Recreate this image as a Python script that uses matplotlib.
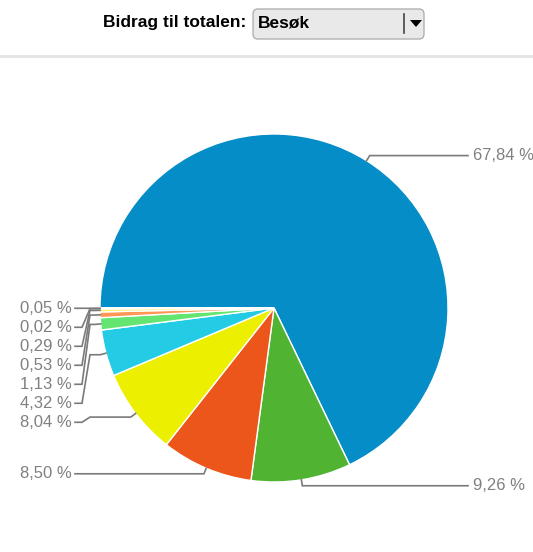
import numpy as np
import matplotlib
matplotlib.use("Agg")
import matplotlib.pyplot as plt
from matplotlib.patches import FancyBboxPatch, Polygon

plt.rcParams['font.family'] = ['Liberation Sans', 'DejaVu Sans']

# andel av besøk per kilde (prosent)
andeler = [67.84, 9.26, 8.50, 8.04, 4.32, 1.13, 0.53, 0.29, 0.02, 0.05]
etiketter = ["67,84 %", "9,26 %", "8,50 %", "8,04 %", "4,32 %",
             "1,13 %", "0,53 %", "0,29 %", "0,02 %", "0,05 %"]
farger = ["#058DC7", "#50B432", "#ED561B", "#EDEF00", "#24CBE5",
          "#64E572", "#FF9655", "#FFF263", "#6AF9C4", "#B2DEFF"]

W, H = 533, 552
fig = plt.figure(figsize=(W / 100, H / 100), dpi=100)
ax = fig.add_axes([0, 0, 1, 1])

cx, cy, r = 274, H - 308, 174
wedges, _ = ax.pie(andeler, colors=farger, startangle=180, counterclock=False,
                   radius=r, center=(cx, cy),
                   wedgeprops=dict(edgecolor='white', linewidth=1))
ax.set_xlim(0, W)
ax.set_ylim(0, H)
ax.set_aspect('equal')
ax.axis('off')

# etiketter med kantlinjer, stablet på hver side
grå = "#808080"
venstre_kol, hoyre_kol = 72, 473
punkter = []
for w, tekst in zip(wedges, etiketter):
    mid = np.deg2rad((w.theta1 + w.theta2) / 2)
    E = (cx + r * np.cos(mid), cy + r * np.sin(mid))
    K = (cx + (r + 6) * np.cos(mid), cy + (r + 6) * np.sin(mid))
    punkter.append(dict(E=E, K=K, tekst=tekst, venstre=np.cos(mid) < 0, y=K[1]))

for side in (True, False):
    grp = sorted([p for p in punkter if p['venstre'] == side], key=lambda p: -p['y'])
    forrige = None
    for p in grp:
        if forrige is not None and forrige - p['y'] < 19:
            p['y'] = forrige - 19
        forrige = p['y']

for p in punkter:
    Ex, Ey = p['E']
    Kx, Ky = p['K']
    Ly = p['y']
    if p['venstre']:
        c = venstre_kol
        xs = [c + 3, c + 10, c + 18, Kx, Ex]
        ax.text(c, Ly, p['tekst'], ha='right', va='center', fontsize=12, color=grå)
    else:
        c = hoyre_kol
        xs = [c - 5, c - 12, c - 20, Kx, Ex]
        ax.text(c, Ly, p['tekst'], ha='left', va='center', fontsize=12, color=grå)
    ys = [Ly, Ly, Ky, Ky, Ey]
    ax.plot(xs, ys, color="#7a7a7a", lw=1.2, solid_joinstyle='miter')

# topptekst med nedtrekksmeny
ax.text(246, H - 23, "Bidrag til totalen:", ha='right', va='center',
        fontsize=12.5, fontweight='bold', color='black')
boks = FancyBboxPatch((253, H - 39), 171, 30, boxstyle="round,pad=0,rounding_size=5",
                      facecolor="#e9e9e9", edgecolor="#b0b0b0", lw=1)
ax.add_patch(boks)
ax.text(258, H - 23, "Besøk", ha='left', va='center', fontsize=12.5,
        fontweight='bold', color='black')
ax.plot([404, 404], [H - 14, H - 33], color="#444444", lw=1.2)
ax.add_patch(Polygon([[410, H - 20], [422, H - 20], [416, H - 27]], closed=True,
                     facecolor='black', edgecolor='none'))
ax.plot([0, W], [H - 56, H - 56], color="#e5e5e5", lw=2.2)

fig.savefig("out.png", dpi=100)
